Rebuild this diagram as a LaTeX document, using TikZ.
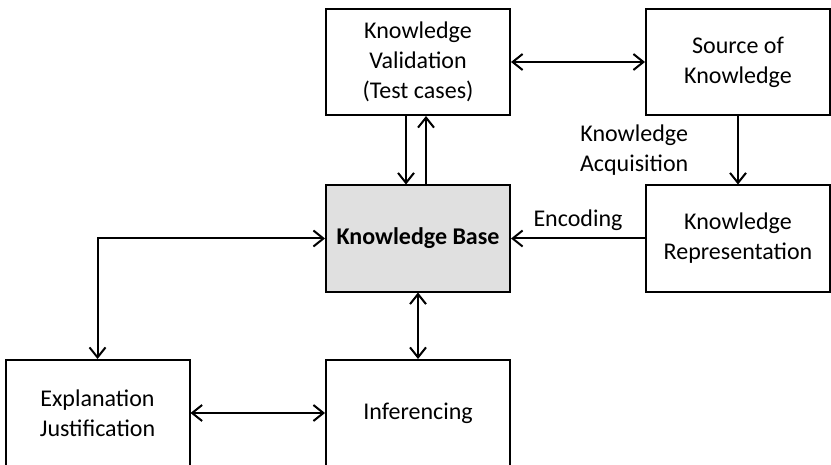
\documentclass[tikz,border=0pt]{standalone}
\usepackage{fontspec}
\setmainfont{Carlito}
\usetikzlibrary{arrows.meta}
\definecolor{kbgray}{RGB}{224,224,224}

\begin{document}
\begin{tikzpicture}[x=0.5pt, y=-0.5pt,% 1 unit = 1 pixel of the original
	box/.style={draw, line width=1pt, minimum width=92pt, minimum height=53pt,
		align=center, inner sep=0pt, font=\fontsize{12}{15}\selectfont},
	link/.style={line width=1pt, -{Straight Barb[length=5pt, width=8pt]}},
	twoway/.style={link, {Straight Barb[length=5pt, width=8pt]}-{Straight Barb[length=5pt, width=8pt]}},
	every label/.append style={font=\fontsize{12}{15}\selectfont}]

\clip (0, 0) rectangle (831, 465);

% La base, al mig de tot
\node [box, fill=kbgray, font=\fontsize{12}{15}\selectfont\bfseries] (kb) at (418, 238.5) {Knowledge Base};
%%%%%%%%%%%%%%%%%%%%%%%%%%%%%%%%%%%%%%%%%%%%%%%%%%%%%%%%%%%%%%%%%%%%%%%%%%%%%%%%
\node [box] (valid)	at (418, 62)	{Knowledge\\Validation\\(Test cases)};
\node [box] (source)	at (738, 62)	{Source of\\Knowledge};
\node [box] (rep)	at (738, 238.5)	{Knowledge\\Representation};
%%%%%%%%%%%%%%%%%%%%%%%%%%%%%%%%%%%%%%%%%%%%%%%%%%%%%%%%%%%%%%%%%%%%%%%%%%%%%%%%
\node [box] (expl)	at (97.5, 413)	{Explanation\\Justification};
\node [box] (infer)	at (418, 413)	{Inferencing};

%%%%%%%%%%%%%%%%%%%%%%%%%%%%%%%%%%%%%%%%%%%%%%%%%%%%%%%%%%%%%%%%%%%%%%%%%%%%%%%%
% Connexions
%%%%%%%%%%%%%%%%%%%%%%%%%%%%%%%%%%%%%%%%%%%%%%%%%%%%%%%%%%%%%%%%%%%%%%%%%%%%%%%%
\draw [twoway]	(valid)	-- (source);
\draw [link]	([xshift=-6pt]valid.south)	-- ([xshift=-6pt]kb.north);
\draw [link]	([xshift=4pt]kb.north)		-- ([xshift=4pt]valid.south);
\draw [link]	(source) -- node [left=21pt, align=center, font=\fontsize{12}{15}\selectfont] {Knowledge\\Acquisition} (rep);
\draw [link]	(rep) -- node [above, font=\fontsize{12}{15}\selectfont] {Encoding} (kb);

\draw [twoway]	(kb)	-| (expl);
\draw [twoway]	(kb)	-- (infer);
\draw [twoway]	(expl)	-- (infer);

\end{tikzpicture}
\end{document}
